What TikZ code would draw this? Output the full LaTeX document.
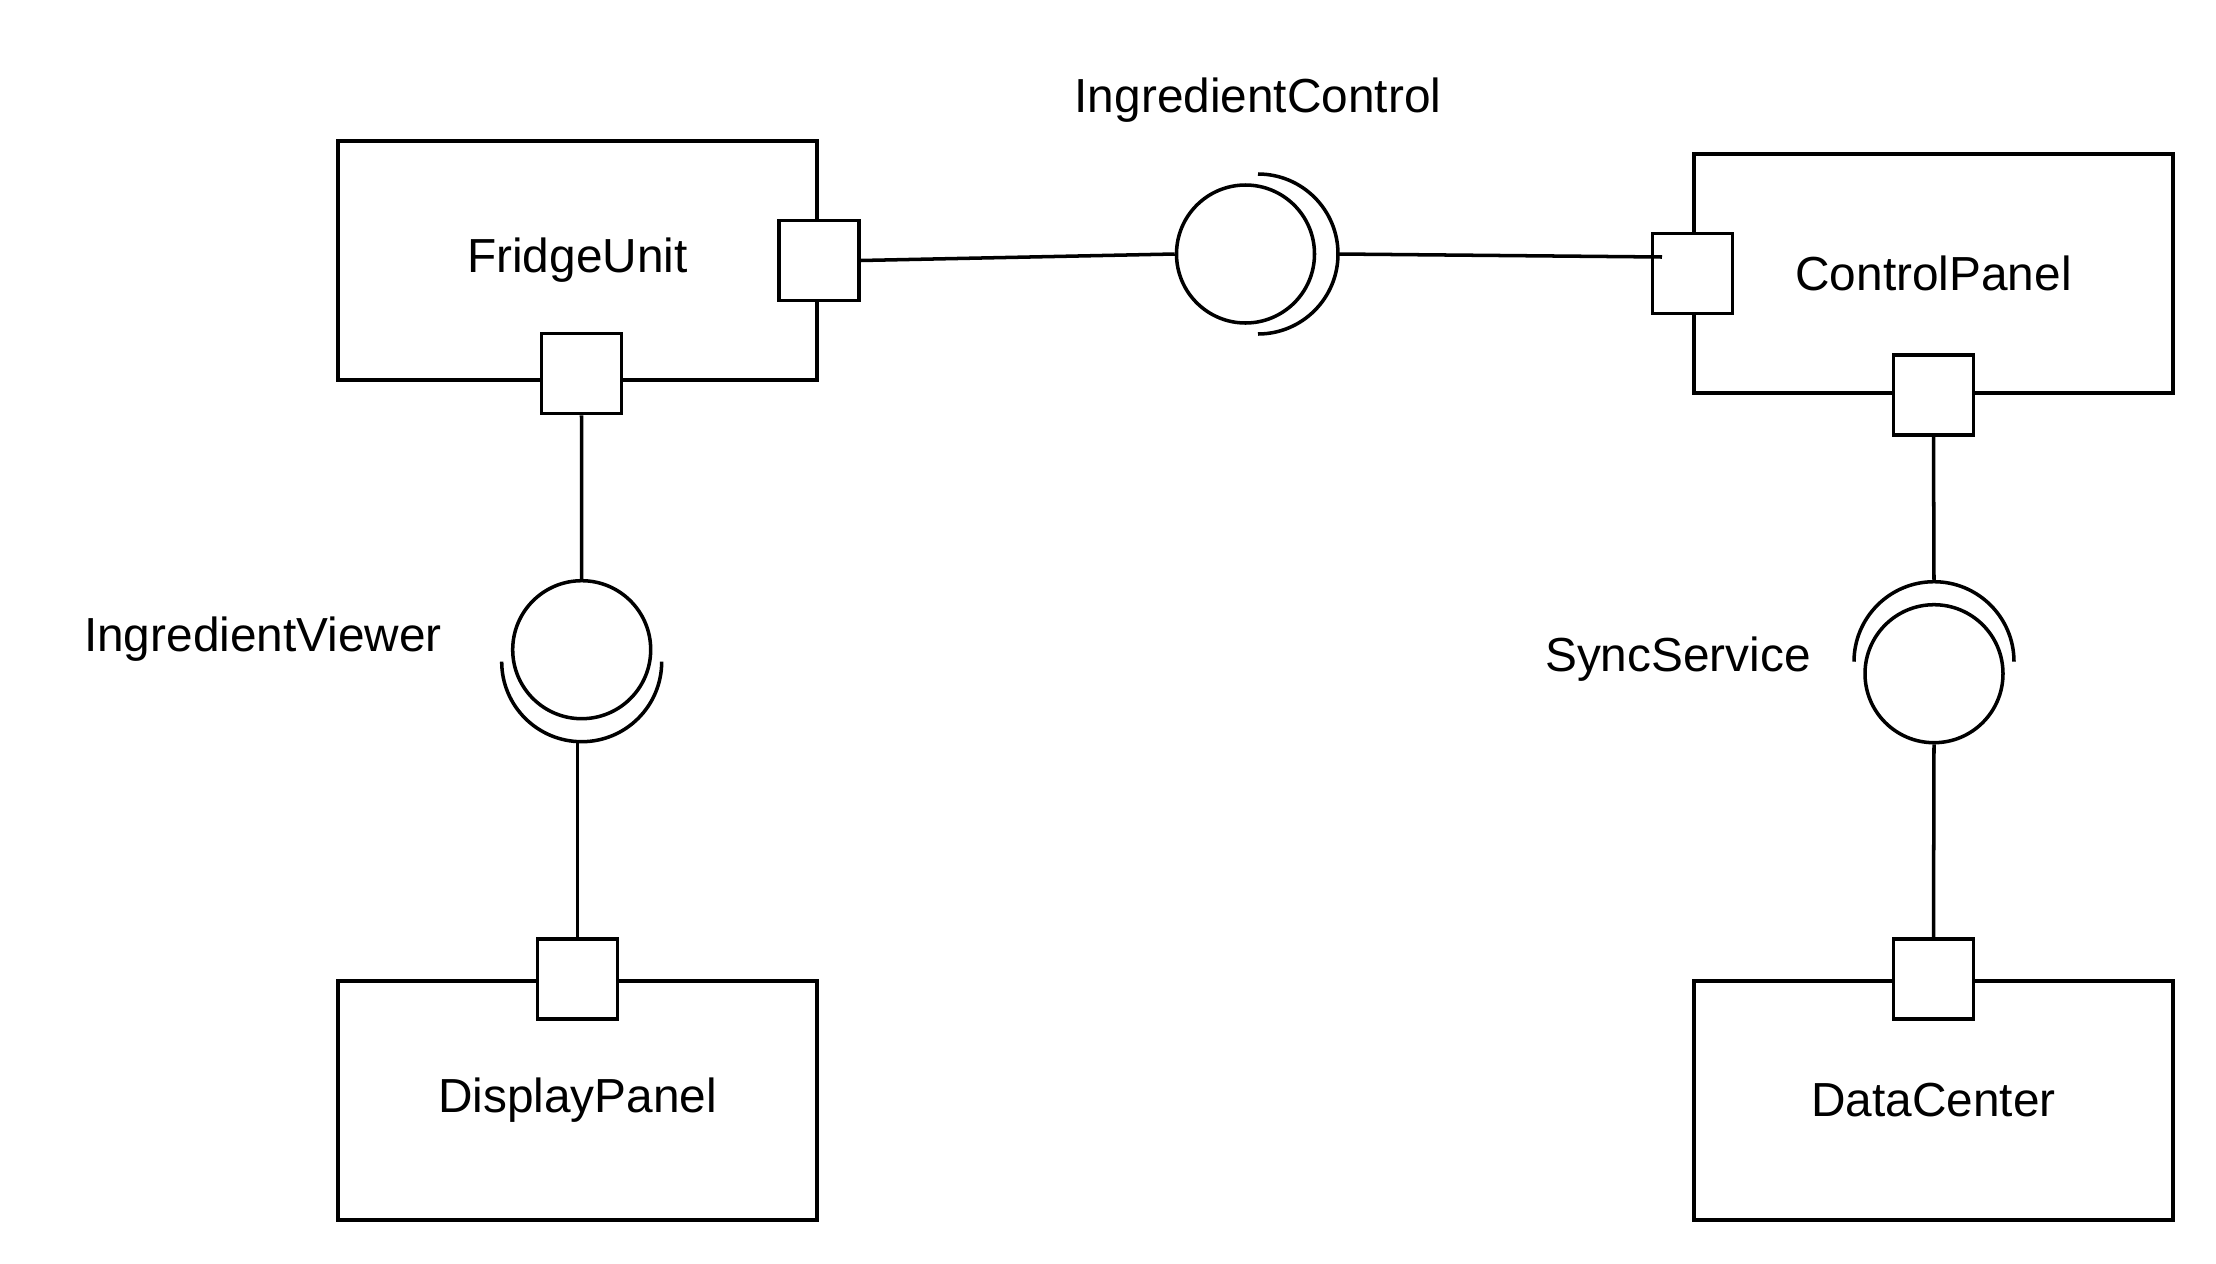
\documentclass[tikz,border=0pt]{standalone}
\usepackage{fontspec}
\setmainfont{Liberation Sans}
\usetikzlibrary{positioning}
\tikzstyle{comp} = [draw, rectangle, minimum width=4.79cm, minimum height=2.39cm, font=\fontsize{13.6}{16}\selectfont]
\tikzstyle{port} = [draw, fill=white, rectangle, minimum size=0.8cm, inner sep=0pt]
\tikzstyle{ball} = [draw, circle, minimum size=1.38cm, inner sep=0pt]
\tikzstyle{lbl} = [draw=none, font=\fontsize{13.6}{16}\selectfont]

\begin{document}
\begin{tikzpicture}[line width=1pt]
\useasboundingbox (0,0) rectangle (22.16,-12.64);

\node[comp] (fridge) at (5.775,-2.605) {FridgeUnit};
\node[comp] (control) at (19.335,-2.735) {ControlPanel};
\node[comp] (display) at (5.775,-11.005) {DisplayPanel};
\node[comp] (data) at (19.335,-11.005) {DataCenter};

% ports
\node[port] (fridgeR) at (fridge.east) {};
\node[port] (fridgeB) at (5.815,-3.735) {};
\node[port] (controlL) at (control.west) {};
\node[port] (controlB) at (control.south) {};
\node[port] (displayT) at (display.north) {};
\node[port] (dataT) at (data.north) {};

% interfaces
\node[ball] (ctrlBall) at (12.455,-2.54) {};
\coordinate (ctrlSock) at (13.38,-2.54);
\draw (ctrlSock) arc[start angle=0, end angle=90, radius=0.8]
      (ctrlSock) arc[start angle=0, end angle=-90, radius=0.8];
\node[lbl] (ctrlLbl) at (12.58,-1.0) {IngredientControl};

\node[ball] (viewBall) at (5.817,-6.497) {};
\coordinate (viewSock) at (5.817,-7.417);
\draw (viewSock) arc[start angle=-90, end angle=0, radius=0.8]
      (viewSock) arc[start angle=-90, end angle=-180, radius=0.8];
\node[lbl] (viewLbl) at (2.63,-6.39) {IngredientViewer};

\node[ball] (syncBall) at (19.34,-6.737) {};
\coordinate (syncSock) at (19.34,-5.817);
\draw (syncSock) arc[start angle=90, end angle=0, radius=0.8]
      (syncSock) arc[start angle=90, end angle=180, radius=0.8];
\node[lbl] (syncLbl) at (16.78,-6.59) {SyncService};

\draw (fridgeR.east) -- (ctrlBall.west);
\draw (ctrlSock) -- ([xshift=0.115cm, yshift=0.165cm]controlL.west);
\draw (fridgeB.south) -- (viewBall.north);
\draw (displayT.north |- viewSock) -- (displayT.north);
\draw (controlB.south) -- (syncSock);
\draw (syncBall.south) -- (dataT.north);

\end{tikzpicture}
\end{document}
